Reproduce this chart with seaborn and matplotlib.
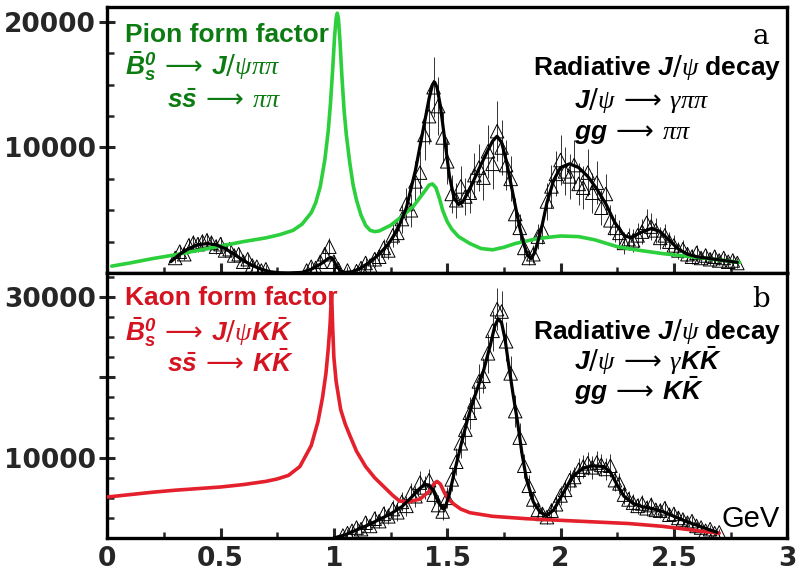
import matplotlib
matplotlib.use('Agg')
import matplotlib.pyplot as plt
from matplotlib.ticker import MultipleLocator, FixedLocator
import seaborn as sns
import pandas as pd

# ---- panel a : pi pi ----
fit_a_x = [0.28, 0.32, 0.36, 0.40, 0.44, 0.48, 0.52, 0.56, 0.60, 0.64, 0.68, 0.72, 0.76, 0.80,
           0.86, 0.90, 0.94, 0.96, 0.975, 0.985, 0.995, 1.01, 1.03, 1.05, 1.08, 1.12, 1.16, 1.20,
           1.24, 1.28, 1.32, 1.36, 1.40, 1.42, 1.435, 1.445, 1.455, 1.47, 1.49, 1.51, 1.53, 1.55,
           1.57, 1.60, 1.64, 1.68, 1.70, 1.72, 1.74, 1.76, 1.78, 1.80, 1.82, 1.84, 1.855, 1.87,
           1.885, 1.90, 1.92, 1.94, 1.97, 2.00, 2.04, 2.08, 2.12, 2.16, 2.20, 2.24, 2.28, 2.31,
           2.35, 2.40, 2.44, 2.48, 2.52, 2.56, 2.60, 2.66, 2.72, 2.78]
fit_a_y = [900, 1500, 1950, 2250, 2350, 2250, 1950, 1500, 1000, 600, 300, 100, 20, 0,
           50, 300, 700, 950, 1150, 1250, 1150, 600, 150, 50, 100, 400, 900, 1500,
           2300, 3400, 5200, 8200, 12000, 13900, 15000, 15200, 14800, 13300, 10500, 7700, 6000, 5450,
           5700, 6700, 8300, 9800, 10500, 10900, 10400, 9000, 7200, 5400, 3600, 2200, 1400, 1150,
           1600, 2500, 3900, 5600, 7400, 8400, 8700, 8400, 7700, 6700, 5500, 4000, 3000, 2800,
           3200, 3550, 3300, 2600, 1900, 1500, 1300, 1150, 1000, 850]

pion_x = [0.02, 0.1, 0.2, 0.3, 0.4, 0.5, 0.6, 0.7, 0.76, 0.82, 0.86, 0.90, 0.92, 0.94, 0.96,
          0.975, 0.985, 0.995, 1.003, 1.01, 1.015, 1.02, 1.027, 1.035, 1.045, 1.055, 1.07, 1.085,
          1.10, 1.12, 1.14, 1.16, 1.18, 1.20, 1.25, 1.30, 1.35, 1.40, 1.42, 1.435, 1.45, 1.465,
          1.48, 1.50, 1.52, 1.55, 1.60, 1.65, 1.70, 1.75, 1.80, 1.90, 2.00, 2.08, 2.15, 2.25,
          2.35, 2.45, 2.55, 2.65, 2.72, 2.79]
pion_y = [550, 800, 1150, 1450, 1800, 2150, 2500, 2800, 3050, 3400, 3900, 4800, 5600, 6900, 9000,
          11300, 13500, 16300, 18800, 20300, 20700, 20300, 18500, 15800, 13000, 11000, 8800, 7000,
          5800, 4600, 3800, 3400, 3300, 3350, 3800, 4500, 5300, 6500, 7000, 7100, 6800, 6000,
          5000, 4100, 3500, 2900, 2350, 1950, 1850, 2050, 2350, 2750, 2950, 2900, 2650, 2100,
          1800, 1550, 1350, 1150, 1000, 850]

pts_a_x = [0.30, 0.32, 0.34, 0.36, 0.38, 0.40, 0.42, 0.44, 0.46, 0.48, 0.50, 0.52, 0.54, 0.56,
           0.58, 0.60, 0.62, 0.64, 0.66, 0.68, 0.70, 0.88, 0.90, 0.92, 0.94, 0.96, 0.98, 1.00,
           1.02, 1.06, 1.10, 1.12, 1.14, 1.16, 1.18, 1.20, 1.22, 1.24, 1.26, 1.28, 1.30, 1.32,
           1.34, 1.36, 1.38, 1.40, 1.42, 1.44, 1.46, 1.48, 1.50, 1.52, 1.54, 1.56, 1.58, 1.60,
           1.62, 1.64, 1.66, 1.68, 1.70, 1.72, 1.74, 1.76, 1.78, 1.80, 1.82, 1.84, 1.86, 1.88,
           1.90, 1.92, 1.94, 1.96, 1.98, 2.00, 2.02, 2.04, 2.06, 2.08, 2.10, 2.12, 2.14, 2.16,
           2.18, 2.20, 2.22, 2.24, 2.26, 2.28, 2.30, 2.32, 2.34, 2.36, 2.38, 2.40, 2.42, 2.44,
           2.46, 2.48, 2.50, 2.52, 2.54, 2.56, 2.58, 2.60, 2.62, 2.64, 2.66, 2.68, 2.70, 2.72,
           2.74, 2.76, 2.78]
pts_a_y = [1200, 1700, 1500, 2200, 2400, 2300, 2500, 2600, 2400, 2100, 2300, 1800, 1900, 1400,
           1500, 900, 1100, 600, 500, 200, 300, 200, 500, 400, 900, 1500, 2100, 900,
           300, 200, 150, 400, 800, 600, 1100, 1300, 2000, 1800, 3000, 3200, 4300, 5500,
           5000, 7300, 8000, 11000, 12500, 14800, 13300, 10800, 8900, 6300, 5800, 6900, 6100, 6400,
           7800, 8400, 7600, 9700, 8700, 11300, 10000, 8600, 7500, 4700, 3600, 2000, 1200, 1500,
           2900, 3400, 5700, 6900, 7900, 9000, 8100, 7700, 8600, 7100, 6800, 8000, 6400, 7200,
           5200, 6300, 4200, 3600, 3200, 2400, 2700, 2600, 3000, 3300, 4000, 3700, 3400, 2800,
           3000, 2500, 2200, 1800, 1900, 1500, 1300, 1600, 1200, 1400, 1100, 1300, 1000, 1200,
           900, 1000, 800]
pts_a_err = [400, 500, 500, 600, 600, 600, 600, 600, 600, 600, 600, 500, 500, 500,
             500, 400, 400, 400, 300, 300, 300, 300, 400, 400, 500, 600, 700, 500,
             300, 300, 300, 400, 500, 500, 600, 600, 700, 700, 900, 900, 1100, 1300,
             1300, 1600, 1700, 2000, 2200, 2400, 2300, 2000, 1800, 1500, 1400, 1600, 1500, 1600,
             1800, 1900, 1800, 2100, 2000, 2400, 2200, 2000, 1800, 1300, 1100, 800, 600, 700,
             1000, 1100, 1500, 1700, 1800, 2000, 1900, 1800, 2000, 1700, 1700, 1900, 1600, 1700,
             1400, 1600, 1200, 1100, 1000, 900, 900, 900, 1000, 1000, 1100, 1100, 1000, 900,
             900, 800, 800, 700, 700, 600, 600, 600, 500, 500, 500, 500, 400, 400,
             400, 400, 400]

# ---- panel b : K Kbar ----
fit_b_x = [1.00, 1.05, 1.10, 1.15, 1.20, 1.25, 1.30, 1.34, 1.38, 1.40, 1.42, 1.44, 1.46, 1.48,
           1.49, 1.51, 1.53, 1.56, 1.59, 1.62, 1.66, 1.69, 1.71, 1.725, 1.74, 1.755, 1.77, 1.79,
           1.81, 1.83, 1.85, 1.88, 1.91, 1.94, 1.97, 2.00, 2.03, 2.06, 2.10, 2.14, 2.19, 2.22,
           2.25, 2.28, 2.32, 2.36, 2.40, 2.45, 2.50, 2.55, 2.60, 2.65, 2.69]
fit_b_y = [0, 400, 1000, 1600, 2300, 3000, 3900, 5000, 6200, 6650, 6600, 5800, 4500, 3650,
           3700, 5500, 8000, 11500, 14800, 17500, 20800, 24000, 26400, 27300, 26800, 24800, 21800, 18000,
           14500, 10500, 7300, 4500, 3200, 2800, 3500, 5000, 6500, 7800, 8700, 9000, 8900, 8200,
           6600, 5200, 4300, 3900, 3700, 3300, 2700, 2100, 1600, 1100, 700]

kaon_x = [0.00, 0.10, 0.20, 0.30, 0.40, 0.50, 0.60, 0.70, 0.75, 0.80, 0.85, 0.90, 0.93, 0.95,
          0.965, 0.975, 0.983, 0.99, 0.995, 1.00, 1.01, 1.03, 1.05, 1.07, 1.10, 1.14, 1.18, 1.22,
          1.26, 1.29, 1.33, 1.38, 1.42, 1.44, 1.455, 1.47, 1.485, 1.50, 1.53, 1.56, 1.60, 1.70,
          1.85, 2.00, 2.15, 2.30, 2.45, 2.55, 2.62, 2.70]
kaon_y = [5100, 5400, 5700, 5950, 6150, 6350, 6650, 7050, 7350, 7800, 8900, 11500, 14500, 17500,
          20500, 23500, 26500, 30500, 26000, 22500, 19500, 16000, 14200, 12800, 10800, 8900, 7500, 6400,
          5300, 4600, 4500, 4850, 5800, 6700, 7050, 6700, 5800, 5000, 4200, 3600, 3150, 2700,
          2400, 2200, 2000, 1800, 1450, 1100, 850, 600]

pts_b_x = [1.04, 1.06, 1.08, 1.10, 1.12, 1.14, 1.16, 1.18, 1.20, 1.22, 1.24, 1.26, 1.28, 1.30,
           1.32, 1.34, 1.36, 1.38, 1.40, 1.42, 1.44, 1.46, 1.48, 1.50, 1.52, 1.54, 1.56, 1.58,
           1.60, 1.62, 1.64, 1.66, 1.68, 1.70, 1.72, 1.74, 1.76, 1.78, 1.80, 1.82, 1.84, 1.86,
           1.88, 1.90, 1.92, 1.94, 1.96, 1.98, 2.00, 2.02, 2.04, 2.06, 2.08, 2.10, 2.12, 2.14,
           2.16, 2.18, 2.20, 2.22, 2.24, 2.26, 2.28, 2.30, 2.32, 2.34, 2.36, 2.38, 2.40, 2.42,
           2.44, 2.46, 2.48, 2.50, 2.52, 2.54, 2.56, 2.58, 2.60, 2.62, 2.64, 2.66, 2.68, 2.70]
pts_b_y = [300, 600, 900, 1300, 1100, 1900, 1500, 2400, 2100, 3000, 2700, 3600, 3200, 4500,
           4000, 5600, 5200, 6900, 6300, 7200, 5400, 4100, 3300, 5000, 7300, 9500, 11800, 13500,
           15600, 17000, 19500, 20200, 23000, 25800, 28500, 28200, 24500, 20500, 15800, 12500, 9000, 6500,
           4800, 3500, 3000, 2600, 3400, 4200, 5300, 6000, 7200, 7600, 8500, 8900, 9300, 8800,
           9400, 9100, 8600, 9000, 7200, 6800, 5400, 4800, 4400, 4000, 4300, 3700, 4100, 3500,
           3400, 3700, 2900, 3000, 2500, 2300, 1900, 2100, 1500, 1300, 900, 1100, 600, 700]
pts_b_err = [400, 500, 600, 700, 700, 800, 800, 900, 900, 1000, 1000, 1100, 1100, 1200,
             1200, 1300, 1300, 1400, 1400, 1400, 1300, 1200, 1100, 1300, 1500, 1700, 1800, 1900,
             2000, 2100, 2200, 2200, 2400, 2500, 2600, 2600, 2400, 2200, 2000, 1800, 1500, 1300,
             1100, 1000, 900, 900, 1000, 1100, 1200, 1200, 1300, 1300, 1400, 1400, 1400, 1400,
             1400, 1400, 1400, 1400, 1300, 1300, 1200, 1100, 1100, 1000, 1000, 1000, 1000, 900,
             900, 900, 800, 800, 800, 700, 700, 700, 600, 600, 500, 500, 400, 400]

x_ticks = [0, 0.5, 1, 1.5, 2, 2.5, 3]
x_tick_labels = ['0', '0.5', '1', '1.5', '2', '2.5', '3']

GREEN_LINE = '#2ccf3c'
GREEN_TEXT = '#0c7c12'
RED_LINE = '#e3202b'
RED_TEXT = '#d41420'

sns.set_theme(style='ticks')
plt.rcParams['font.family'] = ['Liberation Sans', 'DejaVu Sans']
plt.rcParams['mathtext.fontset'] = 'custom'
plt.rcParams['mathtext.bf'] = 'Liberation Sans:italic:bold'
plt.rcParams['mathtext.it'] = 'Liberation Serif:italic'
plt.rcParams['mathtext.rm'] = 'DejaVu Sans'

fig = plt.figure(figsize=(8, 5.76), dpi=100)
ax1 = fig.add_axes([0.134, 0.526, 0.850, 0.462])
ax2 = fig.add_axes([0.134, 0.066, 0.850, 0.460], sharex=ax1)


def draw_panel(ax, px, py, perr, fx, fy, cx, cy, ccolor):
    ax.errorbar(px, py, yerr=perr, fmt='none', ecolor='#333333', elinewidth=0.7, zorder=2)
    sns.scatterplot(x=px, y=py, ax=ax, marker='^', s=95, facecolor='none',
                    edgecolor='black', linewidth=0.7, zorder=3)
    sns.lineplot(data=pd.DataFrame({'x': cx, 'y': cy}), x='x', y='y', ax=ax,
                 color=ccolor, lw=2.6, zorder=4, solid_joinstyle='round')
    sns.lineplot(data=pd.DataFrame({'x': fx, 'y': fy}), x='x', y='y', ax=ax,
                 color='black', lw=2.3, zorder=5, solid_joinstyle='round')
    ax.set_xlabel('')
    ax.set_ylabel('')
    ax.set_xlim(0, 3)
    for s in ax.spines.values():
        s.set_linewidth(2.4)
        s.set_color('black')
    ax.xaxis.set_major_locator(FixedLocator(x_ticks))
    ax.xaxis.set_minor_locator(MultipleLocator(0.25))
    ax.yaxis.set_minor_locator(MultipleLocator(2500))
    ax.tick_params(axis='x', which='major', direction='in', length=7, width=2.2)
    ax.tick_params(axis='x', which='minor', direction='in', length=4, width=1.8)
    ax.tick_params(axis='y', which='major', direction='inout', length=12, width=2.2)
    ax.tick_params(axis='y', which='minor', direction='in', length=5, width=1.8)
    ax.tick_params(which='both', top=False, right=False)


draw_panel(ax1, pts_a_x, pts_a_y, pts_a_err, fit_a_x, fit_a_y, pion_x, pion_y, GREEN_LINE)
draw_panel(ax2, pts_b_x, pts_b_y, pts_b_err, fit_b_x, fit_b_y, kaon_x, kaon_y, RED_LINE)

tick_font = dict(family='DejaVu Sans', weight='bold', size=19)
ax1.set_ylim(0, 21200)
ax1.set_yticks([10000, 20000])
ax1.set_yticklabels(['10000', '20000'], fontdict=tick_font)
ax1.tick_params(axis='x', labelbottom=False)

ax2.set_ylim(0, 33000)
ax2.set_yticks([10000, 20000, 30000])
ax2.set_yticklabels(['10000', '', '30000'], fontdict=tick_font)
ax2.set_xticks(x_ticks)
ax2.set_xticklabels(x_tick_labels, fontdict=tick_font)
ax2.tick_params(axis='x', pad=6)
ax1.tick_params(axis='y', pad=2)
ax2.tick_params(axis='y', pad=2)

fs = 19
arr = r'\;\longrightarrow\;'
# panel a texts
ax1.text(0.026, 0.868, 'Pion form factor', transform=ax1.transAxes, color=GREEN_TEXT,
         fontsize=fs, fontweight='bold')
ax1.text(0.026, 0.744, r'$\bar{\mathbf{B}}^{\mathbf{0}}_{\mathbf{s}}' + arr + r'\mathbf{J}/\psi\pi\pi$',
         transform=ax1.transAxes, color=GREEN_TEXT, fontsize=fs)
ax1.text(0.088, 0.620, r'$\mathbf{s}\bar{\mathbf{s}}' + arr + r'\pi\pi$', transform=ax1.transAxes,
         color=GREEN_TEXT, fontsize=fs)
ax1.text(0.626, 0.744, r'Radiative $\mathbf{J}/\psi$ decay', transform=ax1.transAxes,
         color='black', fontsize=fs, fontweight='bold')
ax1.text(0.686, 0.620, r'$\mathbf{J}/\psi' + arr + r'\gamma\pi\pi$', transform=ax1.transAxes,
         color='black', fontsize=fs)
ax1.text(0.686, 0.505, r'$\mathbf{gg}' + arr + r'\pi\pi$', transform=ax1.transAxes,
         color='black', fontsize=fs)
ax1.text(0.962, 0.862, 'a', transform=ax1.transAxes, ha='center', family='DejaVu Serif',
         fontsize=20, color='black')

# panel b texts
ax2.text(0.026, 0.879, 'Kaon form factor', transform=ax2.transAxes, color=RED_TEXT,
         fontsize=fs, fontweight='bold')
ax2.text(0.026, 0.745, r'$\bar{\mathbf{B}}^{\mathbf{0}}_{\mathbf{s}}' + arr + r'\mathbf{J}/\psi\mathbf{K}\bar{\mathbf{K}}$',
         transform=ax2.transAxes, color=RED_TEXT, fontsize=fs)
ax2.text(0.088, 0.628, r'$\mathbf{s}\bar{\mathbf{s}}' + arr + r'\mathbf{K}\bar{\mathbf{K}}$',
         transform=ax2.transAxes, color=RED_TEXT, fontsize=fs)
ax2.text(0.626, 0.752, r'Radiative $\mathbf{J}/\psi$ decay', transform=ax2.transAxes,
         color='black', fontsize=fs, fontweight='bold')
ax2.text(0.686, 0.634, r'$\mathbf{J}/\psi' + arr + r'\gamma\mathbf{K}\bar{\mathbf{K}}$',
         transform=ax2.transAxes, color='black', fontsize=fs)
ax2.text(0.686, 0.520, r'$\mathbf{gg}' + arr + r'\mathbf{K}\bar{\mathbf{K}}$', transform=ax2.transAxes,
         color='black', fontsize=fs)
ax2.text(0.962, 0.872, 'b', transform=ax2.transAxes, ha='center', family='DejaVu Serif',
         fontsize=20, color='black')
ax2.text(0.904, 0.040, 'GeV', transform=ax2.transAxes, color='black', fontsize=21)

fig.savefig('out.png', dpi=100)
